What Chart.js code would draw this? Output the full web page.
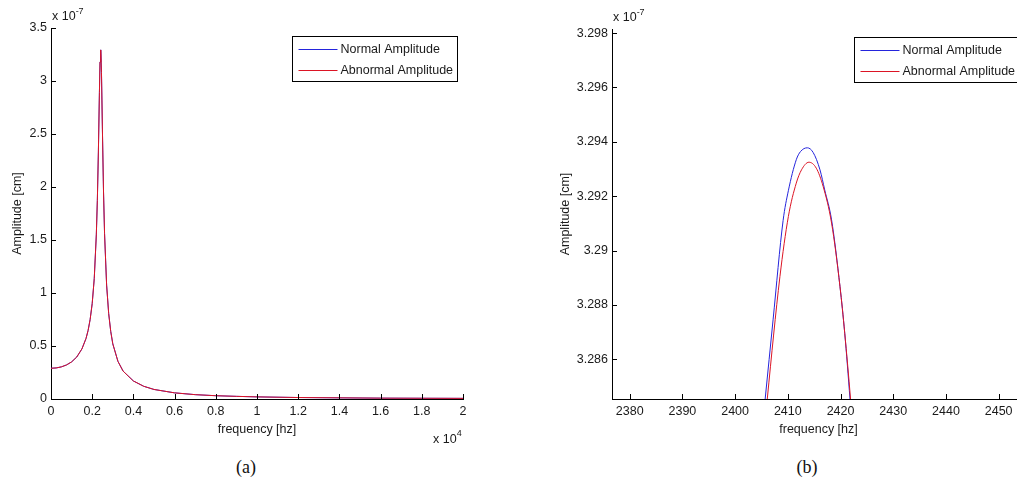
<!DOCTYPE html>
<html>
<head>
<meta charset="utf-8">
<script src="https://cdn.jsdelivr.net/npm/chart.js@4.4.0/dist/chart.umd.min.js"></script>
<style>
  body { margin: 0; background: #fff; }
  #page { position: relative; width: 1017px; height: 488px; overflow: hidden; background: #fff; }
  canvas { position: absolute; top: 0; }
  .cap { position: absolute; top: 457px; font-family: "Liberation Serif", "DejaVu Serif", serif; font-size: 18px; color: #111; transform: translateX(-50%); }
</style>
</head>
<body>
<div id="page">
  <canvas id="chartA" width="480" height="450" style="left:0px;width:480px;height:450px"></canvas>
  <canvas id="chartB" width="500" height="450" style="left:540px;width:500px;height:450px"></canvas>
  <div class="cap" style="left:246px">(a)</div>
  <div class="cap" style="left:807px">(b)</div>
</div>
<script>
// ---- data: full spectrum (amplitude in units of 1e-7 cm) ----
const freqA = [0, 250, 500, 750, 1000, 1250, 1500, 1700, 1800, 1900, 2000, 2100, 2200, 2250, 2300, 2350, 2380, 2414, 2450, 2500, 2550, 2600, 2700, 2800, 2900, 3000, 3250, 3500, 4000, 4500, 5000, 6000, 7000, 8000, 9000, 10000, 12000, 14000, 16000, 18000, 20000];
const normalA = [0.29, 0.293, 0.303, 0.321, 0.35, 0.396, 0.472, 0.571, 0.646, 0.75, 0.9, 1.137, 1.548, 1.874, 2.33, 2.89, 3.18, 3.2938, 3.08, 2.49, 1.953, 1.56, 1.075, 0.806, 0.637, 0.52, 0.355, 0.263, 0.17, 0.12, 0.09, 0.058, 0.041, 0.031, 0.025, 0.02, 0.014, 0.011, 0.008, 0.007, 0.006];
const abnormalA = [0.29, 0.293, 0.303, 0.321, 0.35, 0.396, 0.472, 0.571, 0.646, 0.75, 0.9, 1.137, 1.548, 1.874, 2.33, 2.89, 3.18, 3.2932, 3.08, 2.49, 1.953, 1.56, 1.075, 0.806, 0.637, 0.52, 0.355, 0.263, 0.17, 0.12, 0.09, 0.058, 0.041, 0.031, 0.025, 0.02, 0.014, 0.011, 0.008, 0.007, 0.006];
const xTicksA = [0, 2000, 4000, 6000, 8000, 10000, 12000, 14000, 16000, 18000, 20000];
const xLabelsA = ["0", "0.2", "0.4", "0.6", "0.8", "1", "1.2", "1.4", "1.6", "1.8", "2"];
const yTicksA = [0, 0.5, 1, 1.5, 2, 2.5, 3, 3.5];
const yLabelsA = ["0", "0.5", "1", "1.5", "2", "2.5", "3", "3.5"];

// ---- data: zoom around the peak ----
const freqNormalB = [2405, 2405.7, 2407.2, 2409.1, 2410.1, 2411.6, 2412.4, 2413.7, 2414.8, 2416.1, 2417.0, 2418.3, 2419.9, 2420.8, 2421.8, 2422.5];
const normalB = [3.2832, 3.28454, 3.28745, 3.2911, 3.2922, 3.29334, 3.29364, 3.29378, 3.29361, 3.29297, 3.29223, 3.29113, 3.28867, 3.28696, 3.28454, 3.2828];
const freqAbnormalB = [2405.5, 2406.1, 2408.5, 2410.1, 2411.6, 2412.6, 2414.0, 2415.4, 2416.7, 2418.3, 2419.9, 2420.8, 2421.9, 2422.6];
const abnormalB = [3.2833, 3.28454, 3.28904, 3.29125, 3.29248, 3.29297, 3.29325, 3.29303, 3.29236, 3.29101, 3.28867, 3.28696, 3.28454, 3.2828];
const xTicksB = [2380, 2390, 2400, 2410, 2420, 2430, 2440, 2450];
const xLabelsB = ["2380", "2390", "2400", "2410", "2420", "2430", "2440", "2450"];
const yTicksB = [3.286, 3.288, 3.29, 3.292, 3.294, 3.296, 3.298];
const yLabelsB = ["3.286", "3.288", "3.29", "3.292", "3.294", "3.296", "3.298"];

const seriesNames = ["Normal Amplitude", "Abnormal Amplitude"];
const BLUE = "#2424dc";
const RED = "#dc1424";
const FONT = "'Liberation Sans', Arial, sans-serif";
const TXT = "#1a1a1a";

function pts(xs, ys) {
    return xs.map((x, i) => ({ x: x, y: ys[i] }));
}

// MATLAB style ticks pointing into the plot
const inwardTicks = {
    id: "inwardTicks",
    afterDatasetsDraw(chart) {
        const { ctx, chartArea, scales } = chart;
        ctx.save();
        ctx.strokeStyle = "#000";
        ctx.lineWidth = 1;
        ctx.beginPath();
        scales.x.ticks.forEach(t => {
            const px = Math.round(scales.x.getPixelForValue(t.value)) + 0.5;
            ctx.moveTo(px, chartArea.bottom);
            ctx.lineTo(px, chartArea.bottom - 5);
        });
        scales.y.ticks.forEach(t => {
            const py = Math.round(scales.y.getPixelForValue(t.value)) + 0.5;
            ctx.moveTo(chartArea.left, py);
            ctx.lineTo(chartArea.left + 5, py);
        });
        ctx.stroke();
        ctx.restore();
    }
};

// boxed legend in the top right corner + exponent labels
const extras = {
    id: "extras",
    afterDraw(chart, args, opts) {
        const { ctx, chartArea } = chart;
        ctx.save();
        ctx.font = "12.5px " + FONT;
        ctx.fillStyle = TXT;
        ctx.textBaseline = "alphabetic";

        // x 10^-7 above the y axis
        ctx.textAlign = "left";
        ctx.fillText("x 10", chartArea.left + 1, chartArea.top - 8);
        let w = ctx.measureText("x 10").width;
        ctx.font = "9px " + FONT;
        ctx.fillText("-7", chartArea.left + 1 + w, chartArea.top - 14);

        if (opts.xExp) {
            ctx.font = "12.5px " + FONT;
            ctx.fillText("x 10", chartArea.right - 30, chartArea.bottom + 44);
            w = ctx.measureText("x 10").width;
            ctx.font = "9px " + FONT;
            ctx.fillText(opts.xExp, chartArea.right - 30 + w, chartArea.bottom + 37);
        }

        // legend box
        const bw = 165, bh = 45;
        const bx = Math.round(chartArea.right - 6 - bw) + 0.5;
        const by = Math.round(chartArea.top + 8) + 0.5;
        ctx.fillStyle = "#fff";
        ctx.fillRect(bx, by, bw, bh);
        ctx.strokeStyle = "#000";
        ctx.lineWidth = 1;
        ctx.strokeRect(bx, by, bw, bh);
        ctx.font = "12.5px " + FONT;
        ctx.textBaseline = "middle";
        chart.data.datasets.forEach((ds, i) => {
            const ly = Math.round(by + 12.5 + i * 21) + 0.5;
            ctx.strokeStyle = ds.borderColor;
            ctx.beginPath();
            ctx.moveTo(bx + 6, ly);
            ctx.lineTo(bx + 45, ly);
            ctx.stroke();
            ctx.fillStyle = TXT;
            ctx.fillText(ds.label, bx + 48, ly);
        });
        ctx.restore();
    }
};

function makeChart(id, datasets, cfg) {
    return new Chart(document.getElementById(id), {
        type: "line",
        data: { datasets: datasets },
        options: {
            responsive: false,
            animation: false,
            devicePixelRatio: 1,
            layout: { padding: { top: cfg.top, right: cfg.right, left: 0, bottom: 0 } },
            elements: { point: { radius: 0 }, line: { borderWidth: 1, tension: 0 } },
            plugins: {
                legend: { display: false },
                tooltip: { enabled: false },
                extras: { xExp: cfg.xExp }
            },
            scales: {
                x: {
                    type: "linear",
                    min: cfg.xMin,
                    max: cfg.xMax,
                    afterFit: s => { s.height = 51; },
                    afterBuildTicks: s => { s.ticks = cfg.xTicks.map(v => ({ value: v })); },
                    grid: { display: true, drawOnChartArea: false, drawTicks: false },
                    border: { display: true, color: "#000", width: 1 },
                    ticks: {
                        padding: 5,
                        color: TXT,
                        maxRotation: 0,
                        autoSkip: false,
                        font: { family: FONT, size: 12.5 },
                        callback: (v, i) => cfg.xLabels[i]
                    },
                    title: {
                        display: true,
                        text: "frequency [hz]",
                        color: TXT,
                        font: { family: FONT, size: 12.5 },
                        padding: { top: 0, bottom: 12.5 }
                    }
                },
                y: {
                    type: "linear",
                    min: cfg.yMin,
                    max: cfg.yMax,
                    afterFit: s => { s.width = cfg.yWidth; },
                    afterBuildTicks: s => { s.ticks = cfg.yTicks.map(v => ({ value: v })); },
                    grid: { display: true, drawOnChartArea: false, drawTicks: false },
                    border: { display: true, color: "#000", width: 1 },
                    ticks: {
                        padding: 4,
                        color: TXT,
                        autoSkip: false,
                        font: { family: FONT, size: 12.5 },
                        callback: (v, i) => cfg.yLabels[i]
                    },
                    title: {
                        display: true,
                        text: "Amplitude [cm]",
                        color: TXT,
                        font: { family: FONT, size: 12.5 },
                        padding: { top: cfg.yTitlePad, bottom: 0 }
                    }
                }
            }
        },
        plugins: [inwardTicks, extras]
    });
}

// order: the abnormal (red) curve is drawn on top of the normal (blue) one
makeChart("chartA", [
    { label: seriesNames[0], data: pts(freqA, normalA), borderColor: BLUE, order: 2 },
    { label: seriesNames[1], data: pts(freqA, abnormalA), borderColor: RED, order: 1 }
], {
    top: 28, right: 17, yWidth: 51, yTitlePad: 10,
    xMin: 0, xMax: 20000, yMin: 0, yMax: 3.5,
    xTicks: xTicksA, xLabels: xLabelsA, yTicks: yTicksA, yLabels: yLabelsA,
    xExp: "4"
});

makeChart("chartB", [
    { label: seriesNames[0], data: pts(freqNormalB, normalB), borderColor: BLUE, order: 2, cubicInterpolationMode: "monotone" },
    { label: seriesNames[1], data: pts(freqAbnormalB, abnormalB), borderColor: RED, order: 1, cubicInterpolationMode: "monotone" }
], {
    top: 29, right: 15, yWidth: 72, yTitlePad: 18,
    xMin: 2376.64, xMax: 2455, yMin: 3.28454, yMax: 3.29815,
    xTicks: xTicksB, xLabels: xLabelsB, yTicks: yTicksB, yLabels: yLabelsB,
    xExp: null
});
</script>
</body>
</html>
